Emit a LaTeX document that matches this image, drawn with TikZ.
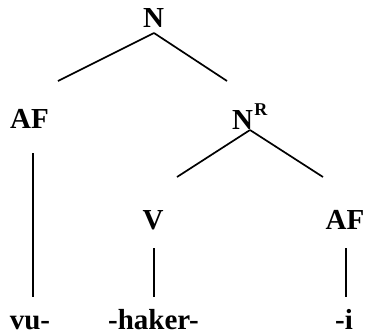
\documentclass[tikz,border=0pt]{standalone}
\usepackage{fontspec}
\setmainfont{Liberation Serif}
\usetikzlibrary{calc}
\begin{document}
\begin{tikzpicture}[x=1pt,y=1pt,
  lab/.style={inner sep=0pt,outer sep=0pt,font=\fontsize{29}{34}\selectfont\bfseries},
  supr/.style={inner sep=0pt,outer sep=0pt,font=\fontsize{18}{21}\selectfont\bfseries},
  br/.style={line width=1.7pt}]
\useasboundingbox (0,0) rectangle (365,-335);
\node[lab,anchor=base] (N) at (153.5,-27) {N};
\node[lab,anchor=base] (AFl) at (29.5,-128) {AF};
\node[lab,anchor=base west] (NR) at (232,-129) {N};
\node[supr,anchor=base west] (NRs) at ($(NR.base east)+(1.5,13.5)$) {R};
\node[lab,anchor=base] (V) at (153,-229) {V};
\node[lab,anchor=base] (AFr) at (345,-229) {AF};
\node[lab,anchor=base] (vu) at (30,-329) {vu-};
\node[lab,anchor=base] (haker) at (153.5,-329) {-haker-};
\node[lab,anchor=base] (i) at (344,-329) {-i};
\draw[br] ($(N.base)+(0.5,-6)$) -- ($(AFl.base)+(28.5,47)$);
\draw[br] ($(N.base)+(0.5,-6)$) -- ($(NR.base west)+(-5,48)$);
\draw[br] ($(NR.base west)+(18,-1)$) -- ($(V.base)+(24,52)$);
\draw[br] ($(NR.base west)+(18,-1)$) -- ($(AFr.base)+(-22,52)$);
\draw[br] ($(AFl.base)+(3.5,-25)$) -- ($(vu.base)+(3,32)$);
\draw[br] ($(V.base)+(1,-19)$) -- ($(haker.base)+(0.5,32)$);
\draw[br] ($(AFr.base)+(1,-19)$) -- ($(i.base)+(2,32)$);
\end{tikzpicture}
\end{document}
